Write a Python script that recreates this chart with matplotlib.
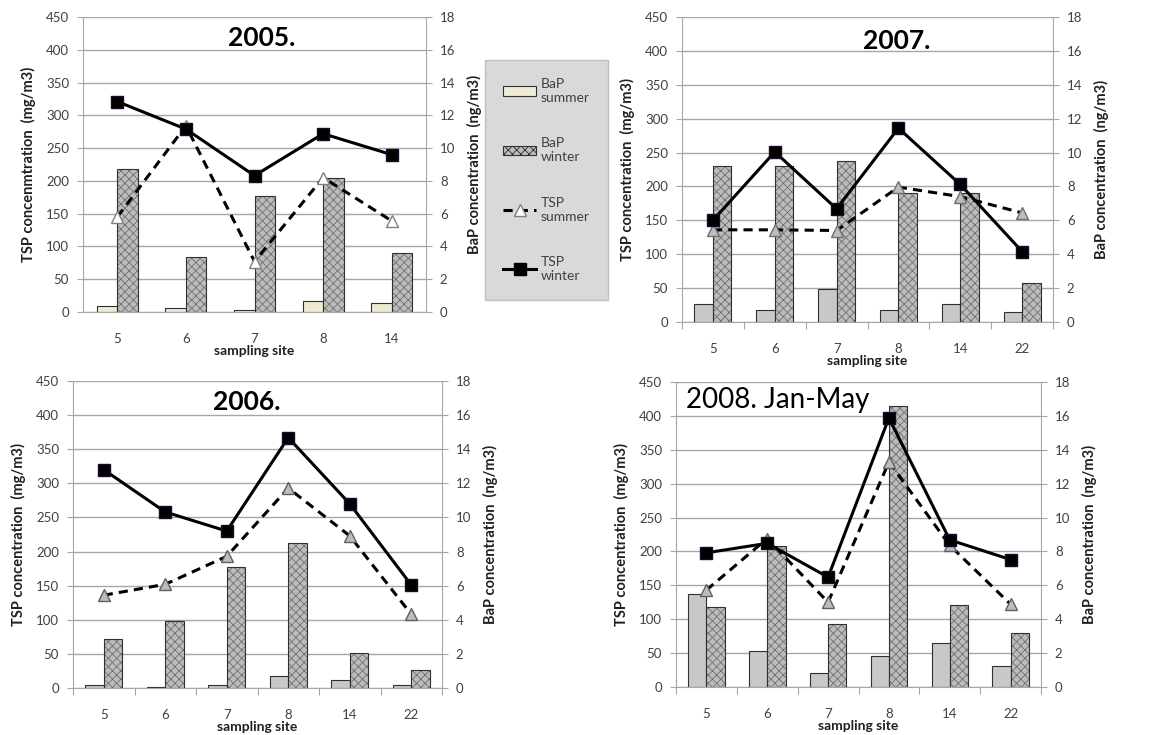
import numpy as np
import matplotlib
matplotlib.use("Agg")
from matplotlib import pyplot as plt
from matplotlib.patches import Patch
from matplotlib.lines import Line2D

plt.rcParams['font.family'] = ['Lato', 'DejaVu Sans']
plt.rcParams['hatch.linewidth'] = 0.6

# ---- data (BaP in ng/m3, TSP in mg/m3) ----
sites_2005 = ["5", "6", "7", "8", "14"]
bap_summer_2005 = [0.37, 0.27, 0.10, 0.65, 0.57]
bap_winter_2005 = [8.7, 3.35, 7.1, 8.15, 3.6]
tsp_summer_2005 = [145, 284, 77, 205, 139]
tsp_winter_2005 = [321, 279, 208, 272, 240]

sites_2007 = ["5", "6", "7", "8", "14", "22"]
bap_summer_2007 = [1.06, 0.73, 1.97, 0.73, 1.06, 0.59]
bap_winter_2007 = [9.2, 9.2, 9.5, 7.6, 7.6, 2.3]
tsp_summer_2007 = [136, 136, 135, 199, 185, 161]
tsp_winter_2007 = [150, 251, 167, 286, 203, 104]

sites_2006 = ["5", "6", "7", "8", "14", "22"]
bap_summer_2006 = [0.16, 0.08, 0.16, 0.68, 0.49, 0.16]
bap_winter_2006 = [2.86, 3.9, 7.1, 8.5, 2.05, 1.08]
tsp_summer_2006 = [136, 152, 193, 293, 223, 108]
tsp_winter_2006 = [320, 258, 230, 367, 270, 151]

sites_2008 = ["5", "6", "7", "8", "14", "22"]
bap_summer_2008 = [5.5, 2.14, 0.82, 1.82, 2.6, 1.22]
bap_winter_2008 = [4.7, 8.3, 3.7, 16.6, 4.85, 3.2]
tsp_summer_2008 = [143, 219, 125, 332, 209, 122]
tsp_winter_2008 = [198, 212, 162, 397, 217, 188]

W, H = 1165, 735
fig = plt.figure(figsize=(W / 100, H / 100), dpi=100)

GRID = '#a6a6a6'
TXT = '#404040'
WINTER_FACE = '#bcbcbc'
WINTER_HATCH = '#707070'
FS = 9.5
LFS = 10.5


def panel(px, sites, bap_s, bap_w, tsp_s, tsp_w, title, tpos, tkw,
          summer_col, tri_face, tri_edge, ticks=True, tsp_label="TSP concentration  (mg/m3)"):
    l, r, t, b = px
    ax = fig.add_axes([l / W, (H - b) / H, (r - l) / W, (b - t) / H])
    ax2 = ax.twinx()
    x = np.arange(len(sites))
    bw = 0.3
    # BaP bars on the primary axis (right-hand scale)
    ax.bar(x - bw / 2, bap_s, bw, color=summer_col, edgecolor='#303030', linewidth=0.8, zorder=2)
    ax.bar(x + bw / 2, bap_w, bw, color=WINTER_FACE, edgecolor=WINTER_HATCH, linewidth=0,
           hatch='xxxx', zorder=2)
    ax.bar(x + bw / 2, bap_w, bw, color='none', edgecolor='#303030', linewidth=0.8, zorder=2)
    ax.set_ylim(0, 18)
    ax.set_yticks(np.arange(0, 19, 2))
    ax.yaxis.tick_right()
    ax.yaxis.set_label_position('right')
    ax.set_ylabel("BaP concentration  (ng/m3)", fontsize=LFS, fontweight='bold', color='#202020', labelpad=8)
    ax.grid(axis='y', color=GRID, linewidth=1)
    ax.set_axisbelow(True)
    ax.set_xlim(-0.5, len(sites) - 0.5)
    ax.set_xticks(np.arange(len(sites) + 1) - 0.5)
    ax.set_xticklabels([])
    ax.set_xticks(x, minor=True)
    ax.set_xticklabels(sites, minor=True, fontsize=FS, color=TXT)
    ax.tick_params(axis='x', which='minor', length=0, pad=15)
    ax.tick_params(axis='x', which='major', length=5 if ticks else 0, color=GRID, direction='out')
    ax.tick_params(axis='y', length=4, color=GRID, labelsize=FS, labelcolor=TXT, pad=6)
    ax.set_xlabel("sampling site", fontsize=10, fontweight='bold', color='#202020', labelpad=0)
    for s in ax.spines.values():
        s.set_color(GRID)
    ax.spines['top'].set_visible(False)

    # TSP lines on the twin axis (left-hand scale)
    ax2.plot(x, tsp_s, color='black', linestyle=(0, (3, 2)), linewidth=2.2, marker='^',
             markersize=9, markerfacecolor=tri_face, markeredgecolor=tri_edge, markeredgewidth=1, zorder=3)
    ax2.plot(x, tsp_w, color='black', linewidth=2.2, marker='s', markersize=9,
             markerfacecolor='black', markeredgecolor='#1a0a2a', zorder=4)
    ax2.set_ylim(0, 450)
    ax2.set_yticks(np.arange(0, 451, 50))
    ax2.yaxis.tick_left()
    ax2.yaxis.set_label_position('left')
    ax2.set_ylabel(tsp_label, fontsize=LFS, fontweight='bold', color='#202020', labelpad=7)
    ax2.tick_params(axis='y', length=4, color=GRID, labelsize=FS, labelcolor=TXT, pad=6)
    for s in ax2.spines.values():
        s.set_visible(False)
    ax2.text(tpos[0], tpos[1], title, transform=ax2.transAxes, **tkw)
    return ax, ax2


bold_title = dict(fontsize=19, fontweight='bold', ha='center', va='center', color='black')

panel((83, 426, 17, 312), sites_2005, bap_summer_2005, bap_winter_2005, tsp_summer_2005,
      tsp_winter_2005, "2005.", (0.52, 0.93), bold_title, '#eeebd2', 'white', '#808080',
      ticks=False, tsp_label="TSP concenmtration  (mg/m3)")
panel((682, 1053, 17, 322), sites_2007, bap_summer_2007, bap_winter_2007, tsp_summer_2007,
      tsp_winter_2007, "2007.", (0.58, 0.92), bold_title, '#c8c8c8', '#bdbdbd', '#707070')
panel((73, 442, 381, 688), sites_2006, bap_summer_2006, bap_winter_2006, tsp_summer_2006,
      tsp_winter_2006, "2006.", (0.47, 0.93), bold_title, '#c8c8c8', '#bdbdbd', '#606060')
panel((676, 1041, 382, 687), sites_2008, bap_summer_2008, bap_winter_2008, tsp_summer_2008,
      tsp_winter_2008, "2008. Jan-May", (0.027, 0.94),
      dict(fontsize=20, ha='left', va='center', color='black'), '#c8c8c8', '#bdbdbd', '#606060')

handles = [
    Patch(facecolor='#eeebd2', edgecolor='#303030', linewidth=0.8),
    Patch(facecolor=WINTER_FACE, edgecolor='#303030', linewidth=0.8, hatch='xxxx'),
    Line2D([], [], color='black', linestyle=(0, (3, 2)), linewidth=2.2, marker='^', markersize=8,
           markerfacecolor='white', markeredgecolor='#808080'),
    Line2D([], [], color='black', linewidth=2.2, marker='s', markersize=8, markerfacecolor='black'),
]
labels = ["BaP\nsummer", "BaP\nwinter", "TSP\nsummer", "TSP\nwinter"]
leg = fig.legend(handles, labels, loc='upper left', bbox_to_anchor=(485 / W, 1 - 60 / H),
                 frameon=True, fancybox=False, facecolor='#d9d9d9', edgecolor='#bfbfbf',
                 framealpha=1, fontsize=10, labelspacing=2.4, handlelength=2.4,
                 handletextpad=0.3, borderpad=1.3, borderaxespad=0)
for t in leg.get_texts():
    t.set_color(TXT)

fig.savefig("out.png", dpi=100)
